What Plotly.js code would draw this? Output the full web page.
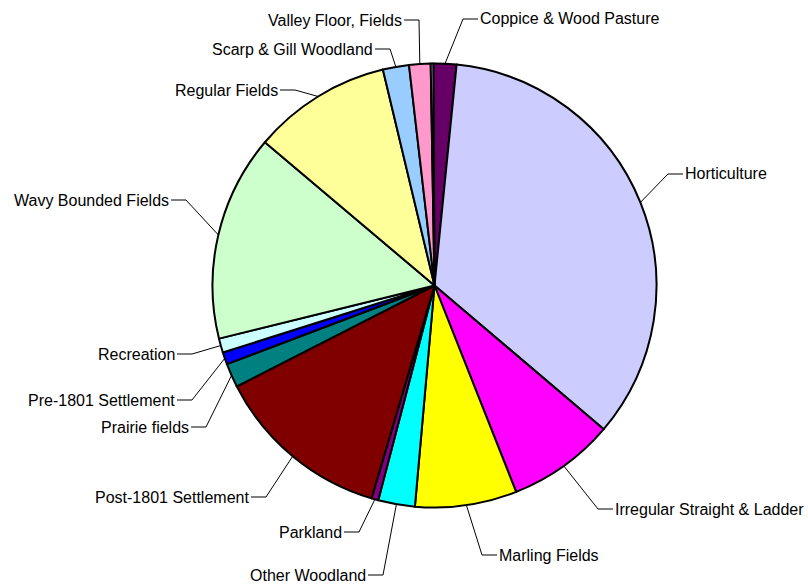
<!DOCTYPE html>
<html>
<head>
<meta charset="utf-8">
<script src="https://cdn.plot.ly/plotly-3.0.1.min.js"></script>
<style>html,body{margin:0;padding:0;background:#fff;}#chart{width:808px;height:584px;}</style>
</head>
<body>
<div id="chart"></div>
<script>
// ---- data ----
const categories = [
  "Coppice & Wood Pasture", "Horticulture", "Irregular Straight & Ladder", "Marling Fields",
  "Other Woodland", "Parkland", "Post-1801 Settlement", "Prairie fields",
  "Pre-1801 Settlement", "Recreation", "Wavy Bounded Fields", "Regular Fields",
  "Scarp & Gill Woodland", "Valley Floor, Fields", ""
];
const values = [1.67, 34.6, 7.8, 7.4, 2.67, 0.5, 12.9, 1.75, 0.89, 1.03, 15.0, 10.1, 1.9, 1.56, 0.19];

// ---- styles ----
const colors = [
  "#660066", "#CCCCFF", "#FF00FF", "#FFFF00", "#00FFFF", "#800080", "#800000", "#008080",
  "#0000FF", "#CCFFFF", "#CCFFCC", "#FFFF99", "#99CCFF", "#FF99CC", "#CC99FF"
];
const W = 808, H = 584;
const cx = 434.5, cy = 285.5, R = 222;
const rotation = -0.3;
const FONT = "Liberation Sans, Arial, sans-serif";
// label text anchor positions in px: side 'L' = text right-aligned on left of pie
const labelPos = [
  {x: 480, y: 19, side: "R"},
  {x: 685, y: 174, side: "R"},
  {x: 615, y: 509, side: "R"},
  {x: 499, y: 555, side: "R"},
  {x: 366, y: 575, side: "L"},
  {x: 342, y: 532, side: "L"},
  {x: 249, y: 497, side: "L"},
  {x: 189, y: 427, side: "L"},
  {x: 175, y: 400, side: "L"},
  {x: 175, y: 354, side: "L"},
  {x: 169, y: 200, side: "L"},
  {x: 278, y: 90, side: "L"},
  {x: 373, y: 49, side: "L"},
  {x: 402, y: 20, side: "L"},
  null
];
const STUB = 15, GAP = 2;

const px = x => x / W;
const py = y => 1 - y / H;

const total = values.reduce((a, b) => a + b, 0);
const annotations = [];
const shapes = [];
let cum = 0;
values.forEach((v, i) => {
  const mid = (rotation + (cum + v / 2) / total * 360) * Math.PI / 180;
  cum += v;
  const lp = labelPos[i];
  if (!lp) return;
  const ex = cx + R * Math.sin(mid), ey = cy - R * Math.cos(mid);
  const dir = lp.side === "R" ? -1 : 1;
  const sx = lp.x + dir * GAP, bx = sx + dir * STUB;
  annotations.push({
    text: categories[i], x: px(lp.x), y: py(lp.y), xref: "paper", yref: "paper",
    xanchor: lp.side === "R" ? "left" : "right", yanchor: "middle", showarrow: false,
    borderpad: 0, borderwidth: 0,
    font: {family: FONT, size: 16, color: "#000"}
  });
  shapes.push({
    type: "path", xref: "paper", yref: "paper",
    path: `M ${px(sx)} ${py(lp.y)} L ${px(bx)} ${py(lp.y)} L ${px(ex)} ${py(ey)}`,
    line: {color: "#000", width: 1}
  });
});

const trace = {
  type: "pie",
  labels: categories.map((c, i) => c === "" ? "unlabelled " + i : c),
  values: values,
  sort: false,
  direction: "clockwise",
  rotation: rotation,
  textinfo: "none",
  hoverinfo: "label+value",
  marker: {colors: colors, line: {color: "#000", width: 2}},
  domain: {x: [(cx - R) / W, (cx + R) / W], y: [(H - cy - R) / H, (H - cy + R) / H]},
  showlegend: false
};

Plotly.newPlot("chart", [trace], {
  width: W, height: H,
  margin: {l: 0, r: 0, t: 0, b: 0},
  paper_bgcolor: "#fff",
  showlegend: false,
  annotations: annotations,
  shapes: shapes,
  font: {family: FONT}
}, {displayModeBar: false, staticPlot: true});
</script>
</body>
</html>
